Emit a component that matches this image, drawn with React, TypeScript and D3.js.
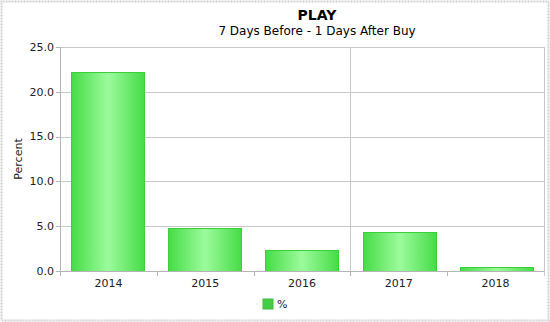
import React from "react";
import * as d3 from "d3";

const categories = ["2014", "2015", "2016", "2017", "2018"];
const values = [22.2, 4.8, 2.3, 4.3, 0.5];
const yTicks = [0, 5, 10, 15, 20, 25];
const title = "PLAY";
const subtitle = "7 Days Before - 1 Days After Buy";
const yLabel = "Percent";
const seriesName = "%";

const W = 550, H = 322;
const M = { left: 60, right: 6, top: 47, bottom: 51 };
const FONT = "Verdana, 'DejaVu Sans', sans-serif";

export default function App() {
  const x = d3.scaleBand<string>().domain(categories).range([M.left, W - M.right]).paddingInner(0.25).paddingOuter(0.11);
  const xb = d3.scaleBand<string>().domain(categories).range([M.left, W - M.right]);
  const y = d3.scaleLinear().domain([0, 25]).range([H - M.bottom, M.top]);
  const x0 = M.left, x1 = W - M.right, y0 = y(0), yTop = y(25);
  const midLine = xb("2017")!;
  return (
    <div style={{ position: "absolute", left: 0, top: 0 }}>
      <svg width={W} height={H} style={{ display: "block" }} fontFamily={FONT}>
        <defs>
          <linearGradient id="barGrad" x1="0" x2="1" y1="0" y2="0">
            <stop offset="0" stopColor="#46dc46" />
            <stop offset="0.5" stopColor="#9cfb9c" />
            <stop offset="1" stopColor="#46dc46" />
          </linearGradient>
        </defs>
        <rect x={0} y={0} width={W} height={H} fill="#fff" />
        <rect x={1.5} y={1.5} width={W - 3} height={H - 3} fill="none" stroke="#d0d0d0" strokeWidth={2} strokeDasharray="1 0.5" />
        {/* grid */}
        {yTicks.map((t) => (
          <line key={t} x1={x0} x2={x1} y1={Math.round(y(t)) + 0.5} y2={Math.round(y(t)) + 0.5} stroke="#c8c8c8" />
        ))}
        <line x1={Math.round(midLine) + 0.5} x2={Math.round(midLine) + 0.5} y1={yTop} y2={y0 + 5} stroke="#c8c8c8" />
        <line x1={x1 + 0.5} x2={x1 + 0.5} y1={yTop} y2={y0 + 5} stroke="#c8c8c8" />
        {/* bars */}
        {categories.map((c, i) => (
          <rect key={c} x={Math.round(x(c)!) + 0.5} y={Math.round(y(values[i])) + 0.5} width={Math.round(x.bandwidth())}
            height={Math.round(y0 - y(values[i]))} fill="url(#barGrad)" stroke="#3ccf3c" strokeWidth={1} />
        ))}
        {/* axes */}
        <line x1={x0 + 0.5} x2={x0 + 0.5} y1={yTop} y2={y0 + 1} stroke="#b4b4b4" />
        <line x1={x0} x2={x1} y1={Math.round(y0) + 0.5} y2={Math.round(y0) + 0.5} stroke="#b4b4b4" />
        {yTicks.map((t) => (
          <g key={t}>
            <line x1={x0 - 4} x2={x0} y1={Math.round(y(t)) + 0.5} y2={Math.round(y(t)) + 0.5} stroke="#b4b4b4" />
            <text x={x0 - 6} y={y(t)} dy="0.35em" textAnchor="end" fontSize={11} fill="#222">{t.toFixed(1)}</text>
          </g>
        ))}
        {categories.map((c) => (
          <g key={c}>
            <line x1={Math.round(xb(c)!) + 0.5} x2={Math.round(xb(c)!) + 0.5} y1={y0} y2={y0 + 5} stroke="#b4b4b4" />
            <text x={xb(c)! + xb.bandwidth() / 2} y={y0 + 16} textAnchor="middle" fontSize={11} fill="#222">{c}</text>
          </g>
        ))}
        <text transform={`translate(22,${(yTop + y0) / 2}) rotate(-90)`} textAnchor="middle" fontSize={11} fill="#222">{yLabel}</text>
        <text x={317} y={20} textAnchor="middle" fontSize={14} fontWeight="bold" fill="#000">{title}</text>
        <text x={317} y={35} textAnchor="middle" fontSize={12} fill="#000">{subtitle}</text>
        {/* legend */}
        <rect x={263} y={299} width={10} height={10} fill="#44cc44" stroke="#3cbf3c" />
        <text x={277} y={308} fontSize={11} fill="#222">{seriesName}</text>
      </svg>
    </div>
  );
}
